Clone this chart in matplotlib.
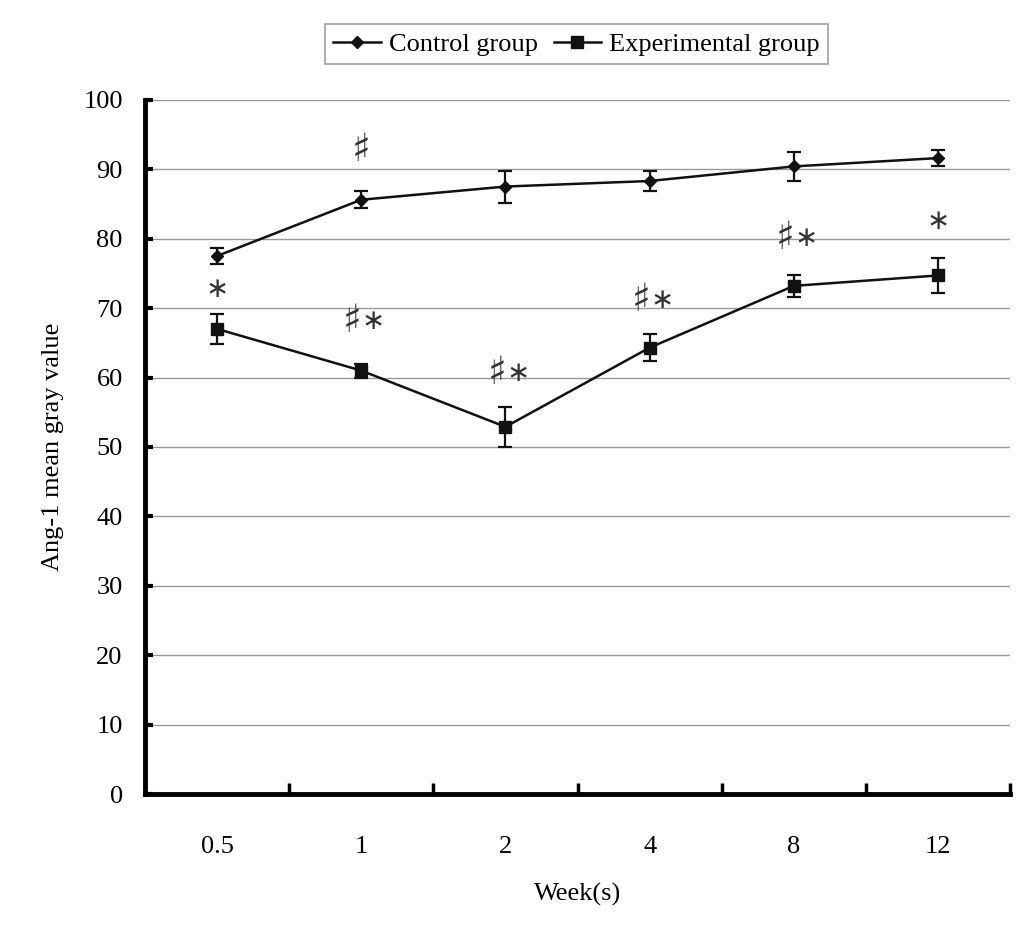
import numpy as np
import matplotlib
matplotlib.use("Agg")
import matplotlib.pyplot as plt
from matplotlib.lines import Line2D

plt.rcParams['font.family'] = ['Liberation Serif', 'DejaVu Serif', 'DejaVu Sans']

weeks = ['0.5', '1', '2', '4', '8', '12']
control_mean = [77.5, 85.6, 87.5, 88.3, 90.4, 91.6]
control_err = [1.2, 1.2, 2.3, 1.4, 2.1, 1.1]
exp_mean = [67.0, 61.0, 52.9, 64.3, 73.2, 74.7]
exp_err = [2.2, 1.0, 2.9, 1.95, 1.55, 2.5]

# significance marks: (index, sharp?, star?, y)
marks = [(1, True, False, 92.7), (0, False, True, 72.7), (1, True, True, 68.2),
         (2, True, True, 60.6), (3, True, True, 71.1),
         (4, True, True, 80.1), (5, False, True, 82.6)]

x = np.arange(len(weeks))

fig = plt.figure(figsize=(10.35, 9.41), dpi=100)
ax = fig.add_axes([0.140, 0.156, 0.836, 0.738])

ax.errorbar(x, control_mean, yerr=control_err, color='#111111', lw=1.8,
            marker='D', ms=6, capsize=5, capthick=1.6, elinewidth=1.6)
ax.errorbar(x, exp_mean, yerr=exp_err, color='#111111', lw=1.8,
            marker='s', ms=9, capsize=5, capthick=1.6, elinewidth=1.6)

for i, sharp, star, yy in marks:
    if sharp and star:
        ax.text(x[i] + 0.005, yy, '\u266f', ha='right', va='center', fontsize=28,
                color='#333333', family=['DejaVu Sans'])
        ax.text(x[i] + 0.005, yy, '\u2217', ha='left', va='center', fontsize=20,
                color='#333333', family=['DejaVu Sans'])
    elif sharp:
        ax.text(x[i], yy, '\u266f', ha='center', va='center', fontsize=28,
                color='#333333', family=['DejaVu Sans'])
    else:
        ax.text(x[i], yy, '\u2217', ha='center', va='center', fontsize=20,
                color='#333333', family=['DejaVu Sans'])

ax.set_xlim(-0.5, len(weeks) - 0.5)
ax.set_ylim(0, 100)
ax.set_yticks(np.arange(0, 101, 10))
ax.set_xticks(x)
ax.set_xticklabels(weeks)
ax.set_xticks(np.arange(0.5, len(weeks), 1), minor=True)
ax.tick_params(axis='x', which='major', length=0, pad=30, labelsize=19)
ax.tick_params(axis='x', which='minor', direction='in', length=8, width=2.5)
ax.tick_params(axis='y', direction='in', length=6, width=3, pad=16, labelsize=19)

ax.yaxis.grid(True, color='#999999', lw=1)
ax.set_axisbelow(True)
for s in ['top', 'right']:
    ax.spines[s].set_visible(False)
ax.spines['left'].set_linewidth(3.5)
ax.spines['bottom'].set_linewidth(3.5)

ax.set_xlabel('Week(s)', fontsize=19, labelpad=18)
ax.set_ylabel('Ang-1 mean gray value', fontsize=19, labelpad=14)

handles = [Line2D([], [], color='#111111', lw=1.8, marker='D', ms=6),
           Line2D([], [], color='#111111', lw=1.8, marker='s', ms=8)]
leg = fig.legend(handles, ['Control group', 'Experimental group'],
                 loc='upper center', bbox_to_anchor=(0.557, 0.988), ncol=2,
                 fontsize=19, frameon=True, fancybox=False, edgecolor='#888888',
                 handlelength=1.8, handletextpad=0.3, columnspacing=0.6,
                 borderpad=0.3)
leg.get_frame().set_linewidth(1.2)

fig.savefig('out.png', dpi=100)
